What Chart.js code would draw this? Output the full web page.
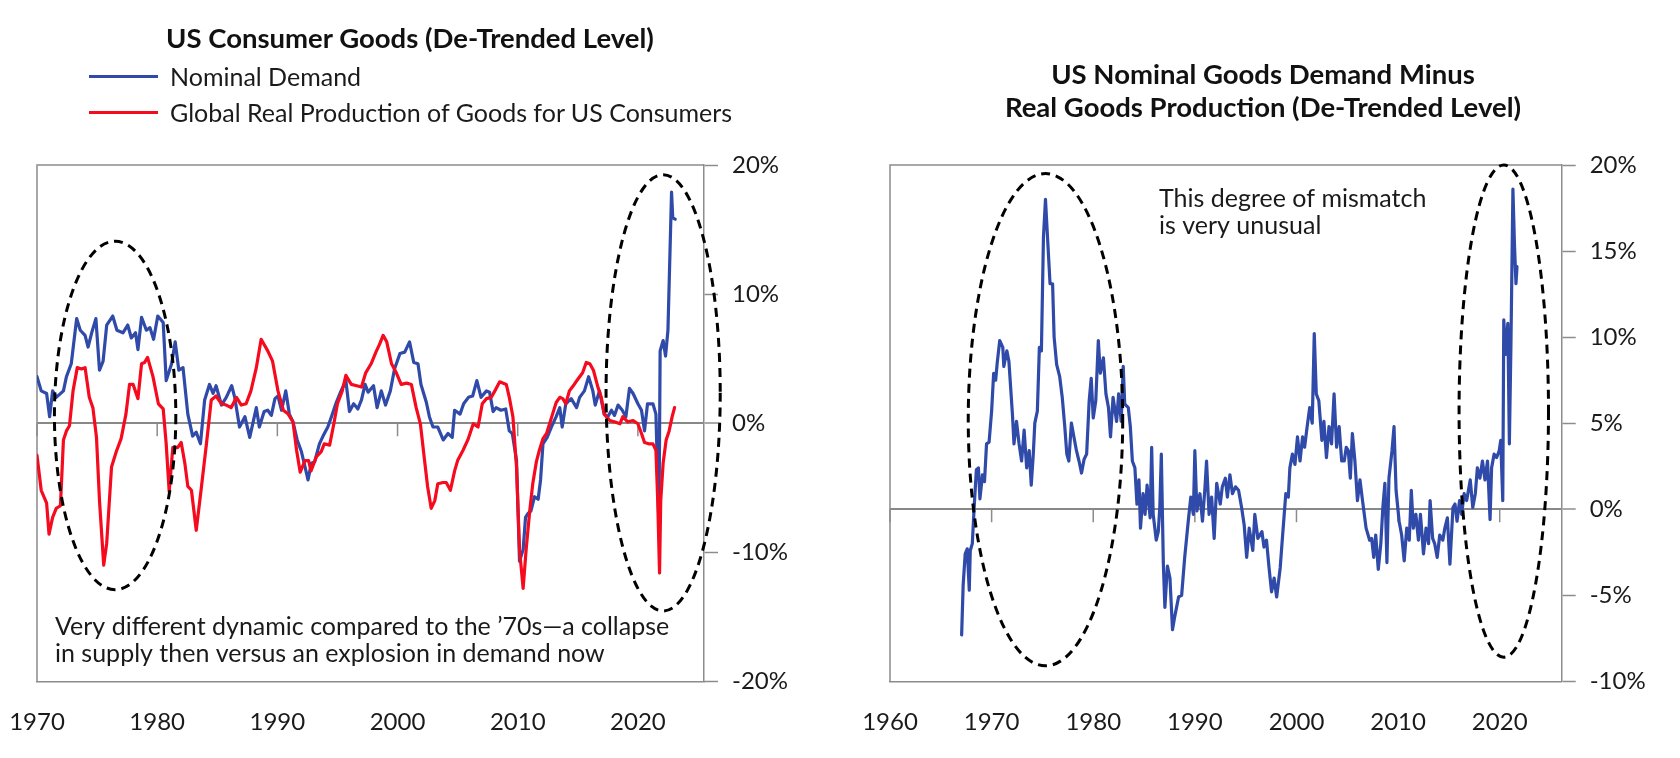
<!DOCTYPE html>
<html>
<head>
<meta charset="utf-8">
<script src="https://cdn.jsdelivr.net/npm/chart.js@4.4.1/dist/chart.umd.min.js"></script>
<style>
  html,body{margin:0;padding:0;background:#fff;}
  #wrap{position:relative;width:1680px;height:758px;overflow:hidden;font-family:Lato,"Open Sans",sans-serif;color:#1a1a1a;}
  canvas{position:absolute;top:0;}
  .title{position:absolute;text-align:center;font-weight:bold;font-size:27.5px;line-height:33px;color:#111;}
  .leg{position:absolute;left:89px;height:36px;line-height:36px;font-size:25px;color:#1a1a1a;white-space:nowrap;}
  .leg .sw{position:absolute;left:0;top:17px;width:69px;height:3px;}
  .leg .tx{position:absolute;left:81px;top:0;}
</style>
</head>
<body>
<div id="wrap">
  <canvas id="c1" width="840" height="758" style="left:0;width:840px;height:758px"></canvas>
  <canvas id="c2" width="840" height="758" style="left:840px;width:840px;height:758px"></canvas>
  <div class="title" style="left:0;width:820px;top:21px">US Consumer Goods (De-Trended Level)</div>
  <div class="leg" style="top:58px"><span class="sw" style="background:#2F4AA8"></span><span class="tx">Nominal Demand</span></div>
  <div class="leg" style="top:94px"><span class="sw" style="background:#F50A1E"></span><span class="tx">Global Real Production of Goods for US Consumers</span></div>
  <div class="title" style="left:863px;width:800px;top:57px">US Nominal Goods Demand Minus<br>Real Goods Production (De-Trended Level)</div>
</div>
<script>
// ---------------- DATA ----------------
// Left chart: US Consumer Goods (De-Trended Level), %
const NOMINAL_DEMAND_YEARS = [1970.0,1970.35,1970.8,1971.05,1971.3,1971.6,1972.2,1972.45,1972.85,1973.3,1973.6,1974.0,1974.25,1974.55,1974.9,1975.2,1975.5,1975.8,1976.3,1976.65,1977.15,1977.55,1977.85,1978.2,1978.4,1978.7,1979.1,1979.4,1979.7,1980.05,1980.5,1980.75,1981.2,1981.5,1981.8,1982.15,1982.55,1982.95,1983.25,1983.6,1983.95,1984.35,1984.65,1984.9,1985.35,1985.75,1986.2,1986.45,1986.85,1987.3,1987.7,1988.25,1988.5,1988.9,1989.2,1989.5,1989.8,1990.05,1990.35,1990.7,1991.0,1991.3,1991.65,1992.0,1992.28,1992.55,1992.83,1993.1,1993.5,1993.8,1994.2,1994.5,1994.9,1995.3,1995.7,1996.0,1996.35,1996.7,1997.0,1997.3,1997.55,1998.0,1998.3,1998.65,1999.0,1999.4,1999.75,2000.2,2000.6,2001.0,2001.35,2001.7,2001.95,2002.4,2002.65,2002.95,2003.35,2003.8,2004.2,2004.55,2004.75,2005.2,2005.5,2005.9,2006.25,2006.6,2006.95,2007.4,2007.66,2007.95,2008.2,2008.6,2009.0,2009.3,2009.55,2009.9,2010.15,2010.45,2010.65,2010.85,2011.1,2011.4,2011.7,2011.9,2012.1,2012.45,2012.8,2013.2,2013.5,2013.7,2014.0,2014.45,2014.9,2015.15,2015.55,2015.9,2016.25,2016.45,2016.8,2017.2,2017.5,2017.8,2018.05,2018.35,2018.7,2019.0,2019.3,2019.6,2020.0,2020.3,2020.55,2020.8,2021.25,2021.5,2021.75,2021.85,2022.1,2022.3,2022.5,2022.8,2022.9,2023.1];
const NOMINAL_DEMAND_VALUES = [3.6,2.5,2.3,0.5,2.5,2.0,2.5,3.6,4.6,8.1,7.2,6.8,5.9,7.0,8.1,4.1,4.8,7.6,8.3,7.2,7.0,7.6,6.6,7.0,5.7,8.2,7.2,7.4,6.5,8.3,7.8,3.3,4.6,6.3,4.1,4.3,0.7,-1.0,-0.7,-1.6,1.8,3.0,2.3,2.9,1.4,2.0,2.9,2.0,-0.3,0.5,-1.1,1.2,-0.3,0.9,1.0,0.6,1.9,2.1,1.0,2.5,0.7,0.1,-1.3,-2.2,-3.3,-4.4,-3.1,-3.0,-1.6,-1.0,-0.3,0.5,1.6,2.5,3.3,0.9,1.5,1.1,1.8,3.0,2.4,2.9,1.2,2.5,1.4,2.5,4.2,5.4,5.5,6.3,4.7,4.6,3.0,1.6,0.5,-0.3,-0.3,-1.3,-0.8,-1.1,1.0,0.7,1.5,2.0,2.1,3.3,2.0,2.5,2.4,0.9,1.2,1.0,1.1,-0.6,-0.8,-2.9,-10.7,-9.8,-7.3,-7.0,-6.8,-5.7,-5.9,-4.4,-1.6,-1.1,-0.3,0.5,1.2,-0.3,1.5,1.9,1.2,2.0,2.5,3.6,2.5,1.4,2.5,0.7,0.5,1.0,0.6,1.4,1.0,0.5,2.7,2.3,1.5,1.0,-0.6,1.5,1.5,0.7,-8.0,5.6,6.4,5.2,7.2,17.9,15.9,15.8];

const GLOBAL_PRODUCTION_YEARS = [1970.0,1970.35,1970.8,1971.0,1971.3,1971.6,1971.95,1972.2,1972.45,1972.7,1973.0,1973.35,1973.7,1974.0,1974.35,1974.65,1974.95,1975.2,1975.55,1975.8,1976.2,1976.6,1977.0,1977.4,1977.7,1978.0,1978.4,1978.7,1978.95,1979.2,1979.65,1980.1,1980.5,1980.75,1981.0,1981.3,1981.7,1982.0,1982.3,1982.55,1982.85,1983.25,1983.65,1984.1,1984.5,1984.9,1985.35,1985.75,1986.15,1986.6,1987.0,1987.4,1987.8,1988.25,1988.65,1989.2,1989.6,1990.05,1990.5,1990.9,1991.3,1991.6,1991.9,1992.3,1992.6,1992.8,1993.25,1993.65,1993.9,1994.35,1994.7,1995.0,1995.4,1995.7,1996.15,1996.6,1997.0,1997.35,1997.8,1998.2,1998.5,1998.8,1999.1,1999.5,1999.9,2000.3,2000.75,2001.15,2001.55,2001.9,2002.25,2002.5,2002.8,2003.1,2003.35,2003.8,2004.05,2004.4,2004.75,2005.0,2005.45,2005.85,2006.3,2006.7,2007.05,2007.4,2007.8,2008.1,2008.5,2009.05,2009.3,2009.6,2009.9,2010.15,2010.45,2010.7,2011.0,2011.25,2011.55,2011.8,2012.1,2012.4,2012.65,2012.9,2013.2,2013.5,2013.75,2014.0,2014.3,2014.7,2015.0,2015.4,2015.7,2016.0,2016.3,2016.7,2016.95,2017.2,2017.65,2018.05,2018.5,2018.75,2019.15,2019.6,2020.0,2020.3,2020.55,2020.9,2021.25,2021.5,2021.65,2021.8,2021.9,2022.1,2022.35,2022.6,2022.85,2023.05];
const GLOBAL_PRODUCTION_VALUES = [-2.5,-5.2,-6.2,-8.6,-7.3,-6.6,-6.4,-1.3,-0.6,-0.2,2.5,4.3,4.2,4.3,2.0,1.2,-1.1,-6.0,-11.0,-9.3,-3.4,-2.2,-1.2,0.7,3.0,3.0,1.9,4.6,4.7,5.1,3.6,1.5,1.1,-1.6,-5.3,-1.9,-1.9,-1.5,-3.1,-4.9,-5.2,-8.3,-5.2,-1.6,1.8,2.1,1.5,1.4,1.2,2.0,1.4,1.5,2.5,4.3,6.5,5.6,4.8,2.5,1.0,0.7,0.1,-2.1,-3.8,-2.9,-2.9,-3.7,-2.6,-2.2,-1.6,-1.7,-0.05,1.5,2.5,3.7,3.0,2.9,2.8,3.9,4.6,5.5,6.1,6.8,6.3,4.6,3.9,3.0,3.1,3.0,1.2,-0.05,-2.9,-4.9,-6.6,-6.0,-4.7,-4.6,-4.6,-5.2,-3.7,-2.9,-2.1,-1.3,-0.05,-0.3,1.5,1.9,2.0,2.5,3.2,3.0,2.0,0.5,-3.4,-9.8,-12.8,-9.8,-6.8,-4.7,-3.0,-2.1,-1.2,-0.8,-0.05,0.7,1.6,2.0,1.9,1.5,2.5,3.0,3.4,3.9,4.7,4.6,4.1,2.7,2.0,0.7,0.2,0.1,-0.05,0.5,0.1,0.2,-0.05,-0.8,-1.5,-1.6,-1.6,-2.1,-6.0,-11.6,-6.0,-3.1,-1.3,-0.6,0.5,1.2];

// Right chart: US Nominal Goods Demand Minus Real Goods Production (De-Trended Level), %
const GAP_YEARS = [1967.05,1967.2,1967.4,1967.6,1967.8,1967.9,1968.1,1968.3,1968.5,1968.7,1968.85,1969.1,1969.3,1969.5,1969.75,1970.0,1970.2,1970.4,1970.55,1970.8,1971.1,1971.2,1971.5,1971.7,1972.05,1972.2,1972.45,1972.7,1972.95,1973.2,1973.45,1973.7,1973.9,1974.1,1974.25,1974.5,1974.7,1974.9,1975.1,1975.3,1975.5,1975.75,1976.0,1976.15,1976.4,1976.7,1976.95,1977.2,1977.4,1977.6,1977.85,1978.1,1978.35,1978.6,1978.85,1979.1,1979.35,1979.6,1979.8,1980.0,1980.25,1980.5,1980.7,1981.0,1981.25,1981.5,1981.7,1981.95,1982.3,1982.5,1982.75,1982.95,1983.1,1983.45,1983.65,1983.85,1984.1,1984.3,1984.5,1984.65,1984.9,1985.1,1985.3,1985.6,1985.75,1985.9,1986.2,1986.4,1986.55,1986.7,1986.9,1987.05,1987.3,1987.55,1987.8,1988.0,1988.4,1988.7,1989.0,1989.35,1989.6,1989.85,1990.0,1990.2,1990.5,1990.75,1991.0,1991.15,1991.4,1991.65,1991.9,1992.15,1992.5,1992.7,1993.0,1993.2,1993.45,1993.7,1994.0,1994.3,1994.6,1994.85,1995.1,1995.35,1995.7,1995.9,1996.2,1996.6,1996.8,1997.05,1997.3,1997.55,1997.8,1998.05,1998.4,1998.6,1998.95,1999.2,1999.35,1999.6,1999.85,2000.1,2000.35,2000.6,2000.8,2001.05,2001.3,2001.55,2001.75,2001.95,2002.2,2002.5,2002.7,2002.95,2003.2,2003.45,2003.7,2003.95,2004.2,2004.45,2004.7,2004.9,2005.1,2005.3,2005.5,2005.75,2006.0,2006.25,2006.5,2006.85,2007.2,2007.4,2007.6,2007.8,2008.05,2008.3,2008.5,2008.7,2008.9,2009.1,2009.4,2009.6,2009.8,2010.1,2010.35,2010.6,2010.85,2011.1,2011.3,2011.5,2011.75,2012.0,2012.2,2012.5,2012.75,2013.0,2013.15,2013.4,2013.6,2013.85,2014.1,2014.4,2014.6,2014.85,2015.1,2015.4,2015.6,2015.8,2016.05,2016.25,2016.5,2016.75,2017.1,2017.35,2017.6,2017.8,2018.05,2018.3,2018.55,2018.8,2019.05,2019.2,2019.45,2019.7,2019.95,2020.1,2020.3,2020.4,2020.6,2020.8,2020.95,2021.1,2021.3,2021.45,2021.6,2021.7];
const GAP_VALUES = [-7.3,-4.4,-2.6,-2.3,-4.7,-2.4,-2.0,0.3,2.3,2.4,0.6,2.0,1.6,3.8,3.9,5.7,7.9,7.5,8.5,9.8,9.4,8.3,9.2,8.6,5.5,3.8,5.1,3.8,2.8,4.6,2.4,3.4,1.4,3.2,5.0,5.7,9.4,9.2,15.8,18.0,15.8,13.1,13.1,10.0,8.4,7.7,6.5,4.8,3.2,2.8,5.0,4.2,3.4,2.8,2.1,2.9,3.2,6.3,7.6,5.3,6.3,9.8,7.9,8.8,6.7,5.9,4.2,6.5,5.1,6.7,5.1,8.3,6.1,5.9,4.8,2.8,2.4,0.3,1.7,-1.1,0.9,-0.3,1.4,-0.5,3.6,-0.3,-1.8,-1.3,0.1,3.2,-3.2,-5.7,-3.3,-4.0,-7.0,-6.3,-5.1,-5.0,-2.8,-0.7,0.7,-0.3,3.4,-0.1,0.9,-0.7,1.3,2.8,-0.3,0.7,-1.7,1.5,0.3,1.3,1.8,0.7,2.0,0.9,1.3,1.1,0.1,-0.9,-2.8,-1.1,-2.4,-0.3,-1.7,-1.3,-2.2,-1.8,-3.4,-4.8,-4.0,-5.1,-3.4,-1.8,0.9,0.7,2.4,3.2,2.6,4.2,2.8,4.2,3.6,4.8,5.9,5.0,10.2,6.7,6.3,4.0,5.1,3.0,4.8,3.8,6.7,3.6,4.8,2.8,2.8,3.6,3.4,1.8,4.4,2.8,0.5,1.7,0.5,-1.1,-1.8,-1.7,-2.8,-1.5,-3.5,-2.0,0.1,1.5,-3.1,1.8,3.4,4.8,1.1,-0.7,-1.5,-3.0,-1.1,-1.8,1.1,-1.1,-0.3,-1.8,-0.3,-2.6,-1.1,-2.0,0.5,-1.7,-2.0,-2.8,-1.5,-1.8,-1.1,-0.5,-3.2,0.1,0.3,-0.7,0.5,-0.3,0.9,0.5,1.7,0.1,0.9,2.4,1.8,2.8,1.7,2.8,-0.6,2.4,3.2,3.0,3.4,4.0,0.5,11.0,9.0,10.8,3.8,9.4,18.6,15.4,13.1,14.1];

// Axis ticks / ranges
const LEFT_X_TICKS = [1970,1980,1990,2000,2010,2020];
const LEFT_Y_TICKS = [-20,-10,0,10,20];
const RIGHT_X_TICKS = [1960,1970,1980,1990,2000,2010,2020];
const RIGHT_Y_TICKS = [-10,-5,0,5,10,15,20];

// Series labels
const SERIES_NAMES = ['Nominal Demand','Global Real Production of Goods for US Consumers','Nominal Goods Demand Minus Real Goods Production'];

// Dashed ellipse highlights in data units: [centerYear, centerValue, halfWidthYears, halfHeightPct]
const LEFT_HIGHLIGHTS = [[1976.5,0.6,5.05,13.5],[2022.1,2.35,4.75,16.9]];
const RIGHT_HIGHLIGHTS = [[1975.3,5.2,7.6,14.3],[2020.4,5.7,4.4,14.3]];

const LEFT_NOTE = ['Very different dynamic compared to the \u201970s\u2014a collapse','in supply then versus an explosion in demand now'];
const RIGHT_NOTE = ['This degree of mismatch','is very unusual'];

// ---------------- STYLE ----------------
const BLUE = '#2F4AA8';
const RED = '#F50A1E';
const GRAY = '#8c8c8c';
const TXT = '#1a1a1a';
const FONT = 'Lato, "Open Sans", sans-serif';

const toPts = (xs, ys) => xs.map((x, i) => ({x, y: ys[i]}));

const framePlugin = {
  id: 'frame',
  beforeDatasetsDraw(chart) {
    const {ctx, chartArea: a, scales} = chart;
    ctx.save();
    ctx.strokeStyle = GRAY;
    ctx.lineWidth = 1.5;
    ctx.beginPath();
    ctx.moveTo(a.left, a.bottom); ctx.lineTo(a.left, a.top); ctx.lineTo(a.right, a.top);
    ctx.stroke();
    // tick marks hanging below the zero line
    const y0 = scales.y.getPixelForValue(0);
    ctx.beginPath();
    scales.x.ticks.forEach(t => {
      const px = scales.x.getPixelForValue(t.value);
      ctx.moveTo(px, y0); ctx.lineTo(px, y0 + 13);
    });
    ctx.stroke();
    ctx.restore();
  }
};

const ellipsePlugin = {
  id: 'ellipses',
  afterDatasetsDraw(chart, args, opts) {
    const {ctx, scales: {x, y}} = chart;
    ctx.save();
    ctx.strokeStyle = '#000';
    ctx.lineWidth = 3;
    ctx.setLineDash([9, 6]);
    (opts.items || []).forEach(([cx, cy, rx, ry]) => {
      const px = x.getPixelForValue(cx), py = y.getPixelForValue(cy);
      const prx = Math.abs(x.getPixelForValue(cx + rx) - px);
      const pry = Math.abs(y.getPixelForValue(cy + ry) - py);
      ctx.beginPath();
      ctx.ellipse(px, py, prx, pry, 0, 0, Math.PI * 2);
      ctx.stroke();
    });
    ctx.restore();
  }
};

const notePlugin = {
  id: 'note',
  afterDraw(chart, args, opts) {
    const {ctx, chartArea: a} = chart;
    ctx.save();
    ctx.font = '25px ' + FONT;
    ctx.fillStyle = TXT;
    ctx.textBaseline = 'alphabetic';
    (opts.lines || []).forEach((t, i) => {
      const baseY = opts.fromBottom ? a.bottom - opts.dy - (opts.lines.length - 1 - i) * opts.lh
                                    : a.top + opts.dy + i * opts.lh;
      ctx.fillText(t, a.left + opts.dx, baseY);
    });
    ctx.restore();
  }
};

function makeChart(id, datasets, xr, xt, yr, yt, pad, yw, highlights, note) {
  return new Chart(document.getElementById(id), {
    type: 'line',
    data: {datasets},
    options: {
      responsive: false,
      animation: false,
      devicePixelRatio: 1,
      parsing: false,
      layout: {padding: pad},
      elements: {point: {radius: 0}, line: {tension: 0, borderJoinStyle: 'round', borderCapStyle: 'round'}},
      plugins: {
        legend: {display: false},
        title: {display: false},
        tooltip: {enabled: false},
        ellipses: {items: highlights},
        note
      },
      scales: {
        x: {
          type: 'linear', min: xr[0], max: xr[1],
          afterBuildTicks: s => { s.ticks = xt.map(v => ({value: v})); },
          afterFit: s => { s.height = 758 - 681.3; s.paddingLeft = 0; s.paddingRight = 0; },
          grid: {display: false, drawTicks: false},
          border: {display: true, color: GRAY, width: 1.5},
          ticks: {padding: 27, color: TXT, font: {family: FONT, size: 24}, maxRotation: 0, autoSkip: false, callback: v => String(v)}
        },
        y: {
          type: 'linear', position: 'right', min: yr[0], max: yr[1],
          afterBuildTicks: s => { s.ticks = yt.map(v => ({value: v})); },
          afterFit: s => { s.width = yw; s.paddingTop = 0; s.paddingBottom = 0; },
          grid: {
            drawOnChartArea: true, drawTicks: true, tickLength: 14,
            color: c => (c.tick && c.tick.value === 0) ? '#888' : 'rgba(0,0,0,0)',
            lineWidth: c => (c.tick && c.tick.value === 0) ? 2 : 1,
            tickColor: GRAY, tickWidth: 1.5
          },
          border: {display: true, color: GRAY, width: 1.5},
          ticks: {padding: 14, color: TXT, font: {family: FONT, size: 24}, callback: v => v + '%'}
        }
      }
    },
    plugins: [framePlugin, ellipsePlugin, notePlugin]
  });
}

makeChart('c1',
  [
    {label: SERIES_NAMES[0], data: toPts(NOMINAL_DEMAND_YEARS, NOMINAL_DEMAND_VALUES), borderColor: BLUE, borderWidth: 3.2, order: 1},
    {label: SERIES_NAMES[1], data: toPts(GLOBAL_PRODUCTION_YEARS, GLOBAL_PRODUCTION_VALUES), borderColor: RED, borderWidth: 3.2, order: 0}
  ],
  [1970, 2025.5], LEFT_X_TICKS, [-20, 20], LEFT_Y_TICKS,
  {left: 37, top: 165, right: 0, bottom: 0}, 840 - 704,
  LEFT_HIGHLIGHTS,
  {lines: LEFT_NOTE, dx: 18, dy: 19, lh: 27, fromBottom: true}
);

makeChart('c2',
  [
    {label: SERIES_NAMES[2], data: toPts(GAP_YEARS, GAP_VALUES), borderColor: BLUE, borderWidth: 3.2}
  ],
  [1960, 2026.1], RIGHT_X_TICKS, [-10, 20], RIGHT_Y_TICKS,
  {left: 50, top: 165, right: 0, bottom: 0}, 840 - 721.7,
  RIGHT_HIGHLIGHTS,
  {lines: RIGHT_NOTE, dx: 269, dy: 42, lh: 27, fromBottom: false}
);
</script>
</body>
</html>
